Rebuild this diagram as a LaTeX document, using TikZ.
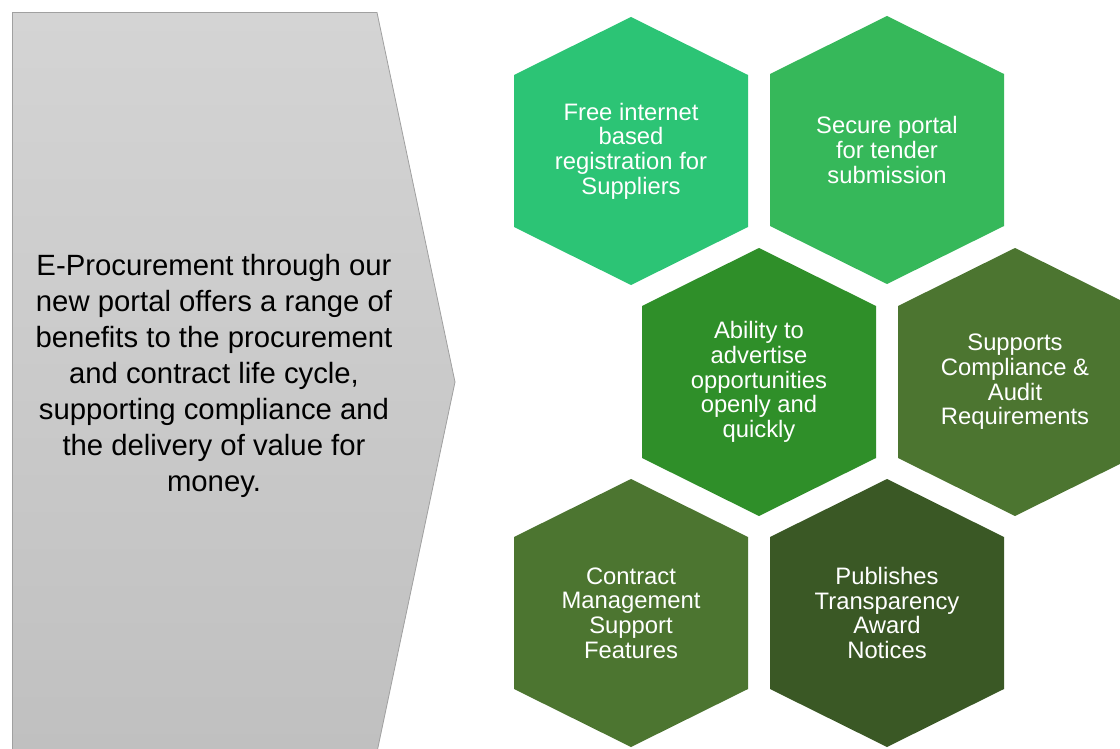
\documentclass[tikz,border=0pt]{standalone}
\usepackage{fontspec}
\setmainfont{Liberation Sans}
\definecolor{grayTop}{RGB}{212,212,212}
\definecolor{grayBot}{RGB}{192,192,192}
\definecolor{grayEdge}{RGB}{160,160,160}
\definecolor{hexA}{RGB}{44,196,117}
\definecolor{hexB}{RGB}{54,184,90}
\definecolor{hexC}{RGB}{47,143,41}
\definecolor{hexD}{RGB}{76,117,48}
\definecolor{hexE}{RGB}{76,117,48}
\definecolor{hexF}{RGB}{58,88,37}
\newcommand\hexcell[4]{%
  \fill[#3, shift={(#2)}] (0,-134) -- (117,-76) -- (117,76) -- (0,134) -- (-117,76) -- (-117,-76) -- cycle;
  \node[hextext] (#1) at (#2) {#4};
}
\begin{document}
\begin{tikzpicture}[x=1pt,y=-1pt,
  hextext/.style={text=white, align=center, font=\fontsize{23.8}{24.6}\selectfont, inner sep=0pt},
  introtext/.style={text=black, align=center, font=\fontsize{29.3}{36}\selectfont, inner sep=0pt},
  introbox/.style={top color=grayTop, bottom color=grayBot, draw=grayEdge, line width=0.8pt}
]
\useasboundingbox (0,0) rectangle (1120,749);
\clip (0,0) rectangle (1120,749);
\fill[white] (0,0) rectangle (1120,749);
\shade[introbox] (12.5,12.5) -- (377,12.5) -- (455,382) -- (377,752) -- (12.5,752) -- cycle;
\node[introtext] (intro) at (214,376) {E-Procurement through our\\new portal offers a range of\\benefits to the procurement\\and contract life cycle,\\supporting compliance and\\the delivery of value for\\money.};
\hexcell{free}{631,151}{hexA}{Free internet\\based\\registration for\\Suppliers}
\hexcell{secure}{887,150}{hexB}{Secure portal\\for tender\\submission}
\hexcell{ability}{759,382}{hexC}{Ability to\\advertise\\opportunities\\openly and\\quickly}
\hexcell{supports}{1015,382}{hexD}{Supports\\Compliance \&\\Audit\\Requirements}
\hexcell{contract}{631,613}{hexE}{Contract\\Management\\Support\\Features}
\hexcell{publishes}{887,613}{hexF}{Publishes\\Transparency\\Award\\Notices}
\end{tikzpicture}
\end{document}
